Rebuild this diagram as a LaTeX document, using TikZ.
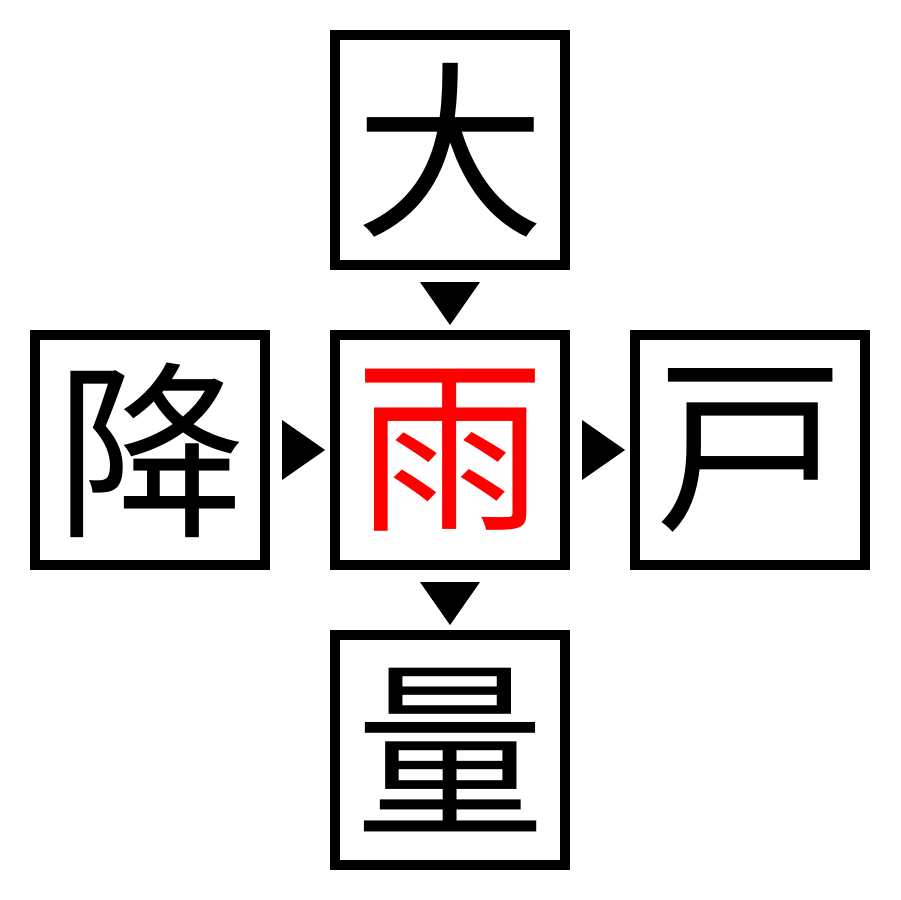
\documentclass[tikz,border=0pt]{standalone}
\usepackage{fontspec}
\newfontfamily\cjk{Noto Sans CJK JP}
\usetikzlibrary{calc}
\begin{document}
\begin{tikzpicture}[x=0.02cm,y=-0.02cm,
  kbox/.style={draw=black,line width=0.2cm,minimum size=4.6cm,inner sep=0pt,
    font=\cjk\fontsize{108}{108}\selectfont},
  tri/.style={fill=black}]
\useasboundingbox (0,0) rectangle (900,900);
\node[kbox] (top) at (450,150) {大};
\node[kbox,text=red] (ctr) at (450,450) {雨};
\node[kbox] (lft) at (150,450) {降};
\node[kbox] (rgt) at (750,450) {戸};
\node[kbox] (bot) at (450,750) {量};
% triangles
\fill[tri] ($(top.south)!0.5!(ctr.north)+(-30,-18)$) -- ++(60,0) -- ++(-30,43) -- cycle;
\fill[tri] ($(ctr.south)!0.5!(bot.north)+(-30,-18)$) -- ++(60,0) -- ++(-30,43) -- cycle;
\fill[tri] ($(lft.east)!0.5!(ctr.west)+(-18,-30)$) -- ++(0,60) -- ++(43,-30) -- cycle;
\fill[tri] ($(ctr.east)!0.5!(rgt.west)+(-18,-30)$) -- ++(0,60) -- ++(43,-30) -- cycle;
\end{tikzpicture}
\end{document}
